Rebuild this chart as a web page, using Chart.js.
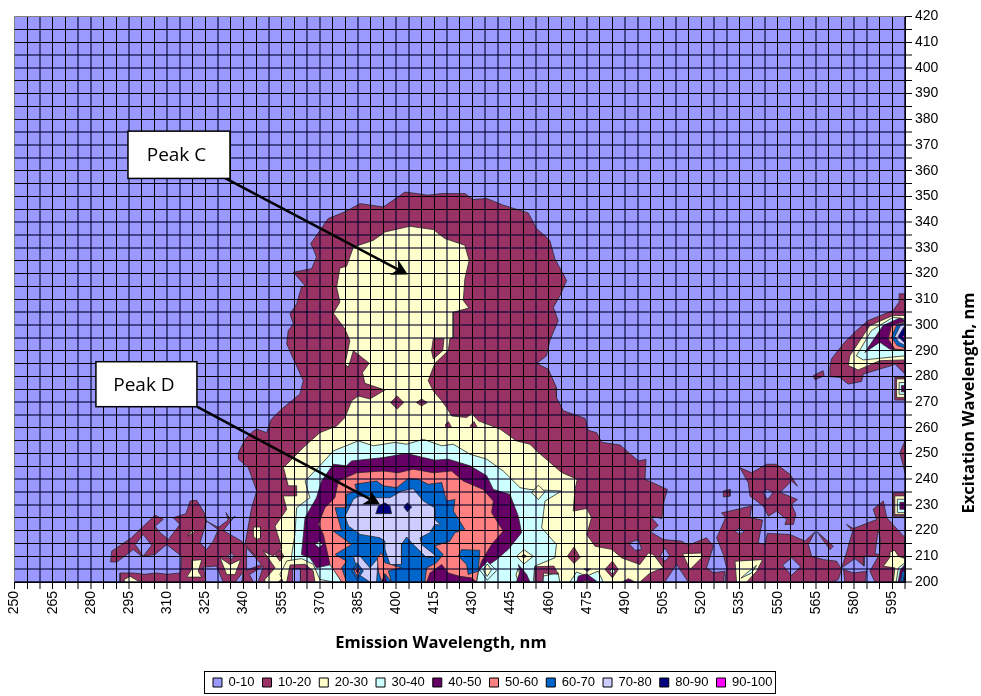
<!DOCTYPE html>
<html>
<head>
<meta charset="utf-8">
<title>Excitation Emission Matrix</title>
<script src="https://cdn.jsdelivr.net/npm/chart.js@4"></script>
<style>
  html, body { margin: 0; padding: 0; background: #fff; }
  #wrap { position: relative; width: 981px; height: 696px; }
</style>
</head>
<body>
<div id="wrap"><canvas id="eem" width="981" height="696"></canvas></div>
<script>
const bandLabels = ["0-10","10-20","20-30","30-40","40-50","50-60","60-70","70-80","80-90","90-100"];
const bandColors = ["#9999FF","#993366","#FFFFCC","#CCFFFF","#660066","#FF8080","#0066CC","#CCCCFF","#000080","#FF00FF"];

// Contour outlines: [emission nm, excitation nm]
const band0 = [[[250,200],[600,200],[600,420],[250,420],[250,200]]];
const band10 = [
  [[355,267.3],[362.2,273.1],[363.5,278.3],[360.2,285.5],[357,292.6],[357.6,297.8],[359.6,300.4],[358.3,304.3],[360.9,308.2],[362.8,314.7],[364.2,315.3],[359.6,320.5],[366.8,321.9],[368.7,326.4],[367.4,329.7],[366.4,331.6],[373.3,341.4],[379.9,344],[385.8,347.2],[395,345.9],[403.5,351.7],[412.6,350.5],[417.9,351.1],[427,351.1],[430.3,348.8],[435.6,349.2],[442.1,346.6],[451.9,343.6],[455.2,337.5],[460.4,332.9],[462.4,325.7],[467,317.3],[464.4,311.4],[461.8,306.9],[463.7,301.7],[460.4,293.9],[459.1,288],[455.2,285],[459.8,282.8],[463,275.7],[463,271.8],[465.7,266.6],[474.2,263.7],[475.5,259],[478.8,258.1],[480.8,254.3],[488,253.3],[495.2,247.1],[498.2,247.7],[497.8,240],[503.7,237.3],[506.6,236],[505.3,231.5],[504.4,224.7],[499.8,225.7],[503,222],[500,219.5],[505,216.5],[512.2,215.9],[514.8,214.3],[522,217.2],[524.7,214],[522,205.5],[524.7,203.6],[529.2,204.2],[528.6,200],[345,200],[340.6,214.6],[343.2,228.9],[345.2,235.4],[341.9,244.5],[338,247.8],[338,250.3],[340.6,255.5],[343.2,258.2],[345.2,259.5],[349.1,258.1],[351,263.4],[355,267.3]],
  [[340.6,214.6],[339.3,215.9],[334.7,218.5],[332,220],[336.7,225.7],[335,224.1],[333.1,227],[334,224.1],[330.1,221.2],[325.5,223.7],[324.5,227],[321.6,231.8],[319,231.5],[317.4,226.6],[312.4,225],[315,222.4],[310.5,216.5],[307.2,219.2],[305.2,221.7],[308.5,224.4],[305.2,226],[299.3,220.4],[296,217.2],[288.2,212],[287.8,207.8],[290.2,207.8],[296.7,212.6],[300,210],[305.2,210.7],[309.8,214.6],[315.7,210],[315.3,203.5],[310,203],[305.9,203.5],[301,203],[296.7,203.5],[291.5,203.5],[291.5,200],[345,200],[345,210],[340.6,214.6]],
  [[535.1,244.5],[539.7,242.5],[545.6,245.8],[549.5,245.8],[554.8,241.9],[557.7,237.3],[555.4,239.3],[550.9,234.8],[557.7,232.1],[555.4,230.2],[557.1,226.3],[556.1,222.4],[552.8,222.4],[553.5,224.3],[549.5,227.6],[546.3,225.6],[544.3,229.6],[539.1,233.4],[538.4,238.6],[535.1,244.5]],
  [[528.6,235.4],[531.2,236],[531.2,233.4],[528.6,233.1],[528.6,235.4]],
  [[527.9,226.9],[529.9,227.3],[539.7,229.6],[539.1,225],[544,224.1],[542.3,215.2],[545,214.6],[545.9,218.9],[554.8,218.5],[560.7,215.9],[564.6,219.5],[562,214.6],[563.3,210],[567.9,208.7],[573.1,208.1],[575.1,204.9],[573.8,201],[571.2,200],[529.2,200],[529.9,205.5],[528.6,210.7],[526,217.2],[529.5,225],[527.9,226.9]],
  [[565.5,219.5],[571.8,213.9],[570.5,212.6],[565.5,219.5]],
  [[575.8,204.9],[579.7,203.5],[584.9,204.2],[584.3,200],[576.4,200],[575.8,204.9]],
  [[577,222.4],[579.7,220.8],[588.9,224.3],[587.5,228.3],[591.5,231.5],[592.8,225],[600,217.2],[600,200],[588.2,200],[586.2,204.2],[589.5,210],[583.9,210],[583.9,206.2],[580.3,209.1],[575.1,205.5],[577,211.3],[579.4,219.8],[577,222.4]],
  [[600,254.9],[598,250.3],[600,242.5],[600,254.9]],
  [[595.4,234.7],[600,234.7],[600,225.6],[595.4,225.6],[595.4,234.7]],
  [[570.5,283.5],[571.1,286.8],[576.3,293.3],[580.9,297.8],[585.5,301.7],[595.3,305.6],[597.7,308.9],[597.7,312.1],[600,312.1],[600,280.9],[596,284.8],[594.7,284.2],[583.6,280.9],[582.9,278],[577.7,277],[574.4,279.6],[570.5,279.9],[570.5,283.5]],
  [[563.9,280.2],[567.8,282.2],[568.2,280.2],[564.6,278.7],[563.9,280.2]],
  [[596,279.6],[600,279.6],[600,270.8],[596,270.8],[596,279.6]]
];
const holes0 = [
  [[297.4,214.6],[300.6,218.5],[303.9,214.3],[300.6,210],[297.4,214.6]],
  [[325.5,223.7],[330.1,220.4],[328.1,215.9],[325.5,212.6],[322.9,215.2],[325.5,223.7]],
  [[333.6,210],[335.1,211.3],[336.7,210],[335.1,208.8],[333.6,210]],
  [[324.2,205.8],[329.4,206.2],[332,200],[325.3,200],[324.2,205.8]],
  [[341.2,213.3],[347.1,206.8],[341,204.5],[341.2,213.3]],
  [[342.3,202.9],[347.8,206.2],[345.8,200],[343.9,200],[342.3,202.9]],
  [[336.7,200],[339.9,203.9],[339.3,200],[336.7,200]],
  [[533.2,219.8],[535.1,221.1],[536.7,219.5],[534.9,218.5],[533.2,219.8]],
  [[551.9,206.5],[555.4,209.4],[559,205.9],[555.4,202.6],[551.9,206.5]],
  [[544.1,234.8],[546,236],[548.2,234.8],[546,232.1],[544.1,234.8]],
  [[589.5,220.5],[588.2,211],[589.9,210.7],[590.4,215.9],[589.5,220.5]],
  [[491.3,215.2],[495.2,216.5],[496.5,212.6],[493.9,212.3],[491.3,215.2]],
  [[503.7,210],[505.7,213.3],[507.6,210],[505.7,208.1],[503.7,210]],
  [[505.6,200],[510.2,206.9],[514.8,200],[505.6,200]]
];
const band20 = [
  [[382.5,270.5],[385.1,272.4],[389.7,271.2],[395.6,274.7],[387.7,277.3],[386.8,281.5],[389.4,285.1],[383.2,290],[381.2,283.5],[379.9,284.8],[381.8,293.9],[379.9,298.4],[375.3,304.6],[377.9,308.9],[376.6,314.7],[377.9,322.2],[380.5,322.8],[383.2,330.3],[391,332.9],[395.6,336.2],[405.4,338.4],[414.6,337.1],[419.2,333.6],[427,331],[428.7,325.1],[427,317.9],[426.4,309.5],[428.6,306.6],[422.4,304.9],[422.4,295.2],[421.1,294.6],[420.5,290],[415.2,285],[412.6,278.3],[414.6,274.4],[417.9,270.5],[419.8,267.9],[421.8,264.6],[427.7,264],[429.7,265.6],[432.3,262.7],[440.8,259.5],[447.3,254.9],[452.6,253.6],[455.2,251],[459.8,247.1],[465,242.6],[471.2,240],[470.3,236],[469.6,227.6],[474.9,228.6],[476.8,225],[474.9,218.5],[478.2,213.9],[484.7,212.7],[488.6,209.4],[495.8,206.8],[499.1,211.3],[501.1,210.7],[505,205.5],[499.8,203.5],[495.8,200],[348.4,200],[348.4,201],[352.4,205.5],[347.8,212],[351.7,210.1],[355,213.4],[352.4,221.7],[357,228.3],[355.6,233.5],[360.9,233.5],[360.9,237.4],[357.6,237.4],[355.7,244.5],[359.6,248.4],[363.5,252.3],[370,258.1],[376.6,260.7],[379.9,264],[382.5,270.5]],
  [[533.2,208.1],[544,208.7],[541.7,204.2],[537.8,200],[533.8,200],[533.2,208.1]],
  [[512.6,211],[520.1,211.3],[520.1,209.4],[515.5,204.9],[512.6,211]],
  [[317.9,217.8],[320.3,220.4],[320.8,219.5],[319,218.5],[317.9,217.8]],
  [[319.6,208.4],[323.6,208.7],[322.2,204.2],[323.6,201.9],[317.7,201.9],[319.6,204.9],[319.6,208.4]],
  [[330.8,209.4],[334.7,206.8],[338.9,208.8],[336.7,202.9],[333.4,202.9],[330.8,209.4]],
  [[343.9,221.4],[346.7,221.4],[346.7,217.2],[345.2,216.5],[343.9,217.8],[343.9,221.4]],
  [[293,200.9],[295.4,202.2],[299.3,200],[293.4,200],[293,200.9]],
  [[596,233.5],[600,233.5],[600,226.3],[596,226.3],[596,233.5]],
  [[591.5,206.1],[594.1,209.7],[594.1,211.7],[596,212.3],[597.4,210],[600,209.1],[600,200],[595.4,200],[596,205.5],[591.5,206.1]],
  [[577.7,284.2],[578.3,288],[586.2,299.8],[595.3,303.7],[600,303.7],[600,286.4],[590.1,286.1],[581.6,282.5],[577.7,284.2]],
  [[596.7,279],[600,279],[600,271.8],[596.7,271.8],[596.7,279]]
];
const over10 = [
  [[414.6,294.6],[418.8,294.6],[418.3,290],[414.6,286.8],[413.9,290],[414.6,294.6]],
  [[397.8,269.8],[400.4,272.4],[403,269.8],[400.4,267.3],[397.8,269.8]],
  [[408,269.8],[410,271.2],[412.2,269.8],[410,268.5],[408,269.8]],
  [[419.2,261.1],[420.5,262.4],[421.8,260.1],[419.2,260.1]],
  [[429,260.7],[430.6,262.4],[431.9,260.1],[429,260.1]],
  [[467.3,210],[469.9,213.6],[472.3,209.6],[469.9,207.2],[467.3,210]],
  [[352.4,210.7],[354.3,212.6],[355.9,210],[354.3,208.1],[352.4,210.7]],
  [[482.1,204.9],[485,208.1],[487.3,204.9],[485,201.6],[482.1,204.9]],
  [[473.8,205.1],[476.4,205.1],[475.1,204.2],[473.8,205.1]],
  [[353.7,200],[355.4,201.6],[356.7,200],[353.7,200]]
];
const band30 = [
  [[360.2,218.5],[360.9,228.9],[366.1,232.8],[364.2,239.3],[370,245.2],[375.3,251],[385.1,254.9],[391,253],[399.5,254.3],[404.1,253.6],[410.7,255.5],[417.9,253],[422.5,253.6],[429,249.7],[435.6,247.8],[442.1,243.2],[448.7,236.7],[452.6,236],[465,235.4],[458.5,231.5],[457.2,221.1],[463,214.6],[462.4,209.4],[454.5,206.2],[453.9,200],[358,200],[359,210.8],[360.2,218.5]],
  [[468.3,200],[470.9,203.9],[474.8,202.3],[479.4,204.2],[481.4,200],[468.3,200]],
  [[457.8,202.3],[463.7,203.6],[464.3,200],[457.8,200],[457.8,202.3]],
  [[537.1,202.9],[541.7,206.5],[539.7,203.5],[535.5,201.5],[537.1,202.9]],
  [[484,204.2],[485,205.5],[486,204.2],[485,202.9],[484,204.2]],
  [[597,232.2],[600,232.2],[600,227],[597,227],[597,232.2]],
  [[597.4,205.5],[600,207.5],[600,200],[596.5,200],[597.4,205.5]],
  [[580.9,288],[586.8,297.8],[595.3,303],[600,302.4],[600,288],[590.8,287.1],[583.6,286.4],[580.9,288]],
  [[597.7,277.6],[600,277.6],[600,273],[597.7,273],[597.7,277.6]]
];
const patches20 = [
  [[453.2,234.8],[455.9,237.7],[458.5,235.1],[455.9,232.1],[453.2,234.8]],
  [[447.3,210],[450.2,212.6],[453.9,210],[450.2,207],[447.3,210]],
  [[447.1,202.7],[447.9,205.3],[448.7,202.7],[447.9,200.6],[447.1,202.7]],
  [[357,208.2],[362.8,209.1],[367.4,206.9],[370,201],[375.3,200],[355.6,200],[354.3,203],[357,208.2]]
];
const band40 = [
  [[362.8,210.7],[364.2,225],[368.7,232.8],[370.7,239.3],[375.3,245.8],[380.5,245.2],[382.5,247.1],[395,248.4],[404.1,250],[410.7,248.4],[415.2,247.4],[420.5,247.8],[429,245.2],[435.6,241.3],[438.2,236],[444.7,234.1],[448,225.6],[449.3,219.2],[444.1,212.7],[439.5,208.8],[434,205],[432.3,204.2],[431.6,200],[378.6,200],[374.6,206.8],[368.7,205.5],[366.1,209.4],[362.8,210.7]],
  [[598.2,204.9],[600,206.8],[600,200],[597.3,200],[598.2,204.9]],
  [[598,231],[600,231],[600,228.3],[598,228.3],[598,231]],
  [[598.6,276.4],[600,276.4],[600,274],[598.6,274],[598.6,276.4]],
  [[471.6,202.3],[474.9,203.1],[478.8,200.3],[471,200],[471.6,202.3]],
  [[488.9,200],[491.3,201.3],[493.9,200],[488.9,200]],
  [[447.3,200],[448.7,204.2],[448,206.8],[451.3,202.9],[452.6,200],[447.3,200]],
  [[584.2,289.3],[591.4,299.8],[598,302.7],[600,301.7],[600,290],[594,290.6],[590.1,293.3],[584.2,289.3]],
  [[449.3,210],[450.1,210.7],[451.3,210],[450.1,209.4],[449.3,210]]
];
const patches30 = [
  [[368.1,214.6],[369.7,215.9],[371.1,214.6],[369.7,213.3],[368.1,214.6]],
  [[432.8,204.8],[435.8,208],[439.5,204.5],[435.8,200.7],[432.8,204.8]]
];
const patches20b = [
  [[434.2,204.8],[435.8,207],[437.5,204.8],[435.8,202.2],[434.2,204.8]]
];
const patches10b = [
  [[358.3,206.6],[364.2,206.9],[367.4,204.3],[368.1,200],[357,200],[358.3,206.6]],
  [[454.5,205.9],[462,206.2],[463.7,203],[458,203.5],[457.5,200],[454.5,200],[454.5,205.9]]
];
const patches0b = [
  [[359.3,205.2],[362.4,205.2],[362.4,200],[359.3,200],[359.3,205.2]]
];
const band50 = [
  [[369.4,222.4],[372,228.9],[375.9,232.8],[377.3,239.3],[384.5,242.5],[395,243.2],[400.8,242.5],[406.7,243.9],[414.6,242.5],[421.8,243.2],[426.4,239.3],[434.2,236],[438.2,231.5],[437.5,227],[442.1,219.8],[437.5,214.6],[433.6,208.1],[432.3,204.2],[431.6,200],[378.6,200],[374,206.8],[371.4,218.5],[369.4,222.4]],
  [[473.6,200.6],[476.2,200.6],[476.2,200],[473.6,200],[473.6,200.6]],
  [[593.4,294.5],[594.7,299.8],[600,301.4],[600,290.3],[596,290.6],[593.4,294.5]]
];
const over40 = [
  [[413.3,203.5],[417.9,206.8],[420.5,203.5],[425,202.2],[429.7,201.6],[431.6,200],[412,200],[413.3,203.5]]
];
const band60 = [
  [[376,228.9],[380.5,228.9],[380.5,234.1],[384.5,235.4],[383.8,238],[392.3,239.3],[395,237.4],[400.2,236.7],[404.8,240.3],[408.7,240],[412.6,238],[417.9,238.7],[419.8,231.5],[423.1,232.1],[422.5,227.6],[427,220.5],[423.1,219.2],[421.1,215.9],[415.2,214],[418.5,210.7],[415.9,207.5],[412,205.5],[411.3,200],[380.5,200],[378.6,205.5],[380.5,208.1],[376,210.7],[382.5,214.6],[375.3,219.8],[378.6,219.8],[376,228.9]],
  [[424.4,210],[425.7,212.6],[432.9,212.3],[432.3,204.2],[428.3,202.9],[427.7,206.8],[424.4,210]],
  [[599,204.2],[600,204],[600,200],[598.2,200],[599,204.2]],
  [[594.7,295.2],[596.7,299.8],[600,301],[600,291],[596.9,292],[594.7,295.2]]
];
const band70 = [
  [[379.9,225.6],[383.2,232.2],[385.1,233.4],[391,233.4],[392.3,232.8],[397.6,232.8],[402.1,235.4],[406.7,236.3],[410.7,231.5],[415.2,228.9],[415.2,224.3],[417.5,222.1],[415.2,222.4],[413.3,219.2],[409.4,217.2],[410,214.6],[415.9,210],[412,209.4],[406.7,214.6],[404.1,217.5],[402.1,214.6],[402.1,206.8],[397.6,206.8],[395.6,212.6],[395.6,215.9],[393.6,217.2],[385.8,218.5],[381.2,221.8],[379.9,225.6]],
  [[383.2,210.1],[385.8,210.1],[389.7,205.5],[393,209.4],[392.3,200],[389.7,200],[385.1,203],[383.2,210.1]],
  [[596,295.5],[598.2,299.8],[600,300.4],[600,292],[597.7,293.2],[596,295.5]]
];
const patches60 = [
  [[382.5,204.3],[384.7,207.5],[387.1,204.3],[384.7,201],[382.5,204.3]]
];
const patches50 = [
  [[383.5,204.3],[384.7,206],[386,204.3],[384.7,202.2],[383.5,204.3]],
  [[392.6,209.4],[394.3,211.4],[395.6,207.5],[402.1,205.5],[396.9,204.3],[398.2,200],[395.6,203.3],[394.3,200],[393,204.3],[392.6,209.4]]
];
const patches40 = [
  [[384.2,204.3],[384.7,205],[385.3,204.3],[384.7,203.6],[384.2,204.3]],
  [[394.3,200],[395.6,202.6],[396.3,200],[394.3,200]]
];
const band80 = [
  [[392,226.6],[393,229.5],[395.6,230.8],[397.6,229.5],[398.2,226.6],[392,226.6]],
  [[403,229.2],[404.4,230.8],[406.1,229.2],[404.4,227.3],[403,229.2]],
  [[597.3,295.5],[599.5,299.1],[600,299.1],[600,292.9],[597.3,295.5]],
  [[599.7,202.9],[600,202.9],[600,200],[599.3,200],[599.7,202.9]]
];
const band90 = [
  [[599,295.5],[600,296.5],[600,293.9],[599,295.5]]
];

// [polygons, band index], painted first to last
const paintOrder = [
  [band0,0],[band10,1],[holes0,0],[band20,2],[over10,1],[band30,3],[patches20,2],[patches10b,1],[patches0b,0],
  [band40,4],[patches30,3],[patches20b,2],[band50,5],[over40,4],[band60,6],[band70,7],[patches60,6],[patches50,5],[patches40,4],[band80,8],[band90,9]
];

const calloutBoxes = [
  {text:"Peak C", x0:294.6, x1:334.7, y0:375.4, y1:357},
  {text:"Peak D", x0:282, x1:321.7, y0:285.7, y1:268.2}
];
const calloutArrows = [
  {x0:331.5, y0:357.8, x1:404.6, y1:319.6},
  {x0:321.7, y0:268.2, x1:393.6, y1:230.2}
];

const datasets = [];
paintOrder.forEach(([polys, band]) => {
  polys.forEach(pts => {
    const i = datasets.length;
    datasets.push({
      label: bandLabels[band],
      data: pts.map(([x,y]) => ({x,y})),
      showLine: true,
      fill: "shape",
      backgroundColor: bandColors[band],
      borderColor: "rgba(40,40,40,.8)",
      borderWidth: 1,
      pointRadius: 0,
      tension: 0,
      order: -i
    });
  });
});

// grid lines land between pixels in the original, so some look soft
function gridWidth(c) {
  const p = c.scale.getPixelForValue(c.tick.value);
  const f = p - Math.floor(p);
  return f > 0.2 && f < 0.8 ? 1 : 2;
}
function gridColor(c) {
  const v = c.tick.value;
  if ((c.scale.axis === "x" && v === 250) || (c.scale.axis === "y" && v === 420)) return "#808080";
  return gridWidth(c) === 1 ? "#000" : "rgba(0,0,40,.55)";
}

const extras = {
  id: "extras",
  afterDraw(chart) {
    const {ctx, scales:{x, y}} = chart;
    ctx.save();
    // arrows
    ctx.strokeStyle = "#000";
    ctx.fillStyle = "#000";
    calloutArrows.forEach(a => {
      const x0 = x.getPixelForValue(a.x0), y0 = y.getPixelForValue(a.y0);
      const x1 = x.getPixelForValue(a.x1), y1 = y.getPixelForValue(a.y1);
      const ang = Math.atan2(y1-y0, x1-x0);
      ctx.lineWidth = 2.5;
      ctx.beginPath();
      ctx.moveTo(x0, y0);
      ctx.lineTo(x1 - 8*Math.cos(ang), y1 - 8*Math.sin(ang));
      ctx.stroke();
      ctx.beginPath();
      ctx.moveTo(x1, y1);
      ctx.lineTo(x1 - 18*Math.cos(ang-0.5), y1 - 18*Math.sin(ang-0.5));
      ctx.lineTo(x1 - 11*Math.cos(ang), y1 - 11*Math.sin(ang));
      ctx.lineTo(x1 - 18*Math.cos(ang+0.5), y1 - 18*Math.sin(ang+0.5));
      ctx.closePath();
      ctx.fill();
    });
    // callout boxes
    calloutBoxes.forEach(b => {
      const left = x.getPixelForValue(b.x0), right = x.getPixelForValue(b.x1);
      const top = y.getPixelForValue(b.y0), bottom = y.getPixelForValue(b.y1);
      ctx.fillStyle = "#fff";
      ctx.fillRect(left, top, right-left, bottom-top);
      ctx.lineWidth = 1.5;
      ctx.strokeRect(left, top, right-left, bottom-top);
      ctx.fillStyle = "#000";
      ctx.font = "19px 'Open Sans'";
      ctx.textAlign = "center";
      ctx.textBaseline = "middle";
      ctx.fillText(b.text, (left+right)/2 - 2.5, (top+bottom)/2 + 1);
    });
    // axis titles
    ctx.fillStyle = "#000";
    ctx.font = "bold 16.5px 'Open Sans'";
    ctx.textAlign = "center";
    ctx.textBaseline = "middle";
    ctx.fillText("Emission Wavelength, nm", 441, 643);
    ctx.translate(969, 403);
    ctx.rotate(-Math.PI/2);
    ctx.fillText("Excitation Wavelength, nm", 0, 0);
    ctx.restore();
    // legend frame
    ctx.save();
    ctx.strokeStyle = "#000";
    ctx.lineWidth = 1;
    ctx.strokeRect(204.5, 671.5, 571, 22);
    ctx.restore();
  }
};

new Chart(document.getElementById("eem"), {
  type: "scatter",
  data: {datasets},
  options: {
    responsive: false,
    animation: false,
    events: [],
    layout: {padding: {left: 14.5, top: 16.5, right: 10, bottom: -3}},
    scales: {
      x: {
        type: "linear", min: 250, max: 600,
        afterFit: s => { s.height = 86; },
        grid: {z: 1, color: gridColor, lineWidth: gridWidth, tickLength: 7, tickColor: "#000", tickWidth: 1},
        border: {color: "#000", width: 1, z: 2},
        ticks: {
          stepSize: 5, autoSkip: false, minRotation: 90, maxRotation: 90, padding: 2, color: "#000",
          font: {family: "'Liberation Sans'", size: 14},
          callback: v => (v-250) % 15 === 0 && v < 600 ? String(v) : ""
        }
      },
      y: {
        type: "linear", position: "right", min: 200, max: 420,
        afterFit: s => { s.width = 66; },
        grid: {z: 1, color: gridColor, lineWidth: gridWidth, tickLength: 7, tickColor: "#000", tickWidth: 1},
        border: {color: "#000", width: 1, z: 2},
        ticks: {
          stepSize: 5, autoSkip: false, padding: 3, color: "#000",
          font: {family: "'Liberation Sans'", size: 14},
          callback: v => v % 10 === 0 ? String(v) : ""
        }
      }
    },
    plugins: {
      tooltip: {enabled: false},
      legend: {
        position: "bottom",
        labels: {
          boxWidth: 9, boxHeight: 9, padding: 8, color: "#000",
          font: {family: "'Liberation Sans'", size: 13},
          generateLabels: () => bandLabels.map((text, i) => ({
            text, fillStyle: bandColors[i], strokeStyle: "#000", lineWidth: 1, hidden: false
          }))
        }
      }
    }
  },
  plugins: [extras]
});
</script>
</body>
</html>
